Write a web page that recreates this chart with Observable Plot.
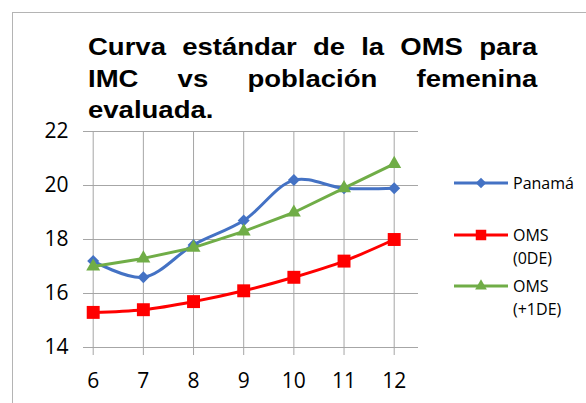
<!DOCTYPE html>
<html>
<head>
<meta charset="utf-8">
<script src="https://cdn.jsdelivr.net/npm/d3@7"></script>
<script src="https://cdn.jsdelivr.net/npm/@observablehq/plot@0.6"></script>
<style>
  html, body { margin: 0; padding: 0; background: #fff; overflow: hidden; }
  #wrap { position: relative; width: 586px; height: 403px; overflow: hidden; background: #fff; }
  #border { position: absolute; left: 12px; top: 12px; width: 640px; height: 460px; border: 1px solid #b4b4b4; box-sizing: border-box; }
  #title { position: absolute; left: 88px; top: 31px; width: 392px; transform: scaleX(1.146); transform-origin: 0 0;
           font-family: "Liberation Sans", Arial, sans-serif; font-weight: bold; font-size: 24px; line-height: 31.5px; color: #000; }
  #title .j { text-align: justify; text-align-last: justify; }
  #chart { position: absolute; left: 0; top: 0; }
  #legend { position: absolute; left: 0; top: 0; }
</style>
</head>
<body>
<div id="wrap">
  <div id="border"></div>
  <div id="chart"></div>
  <div id="title"></div>
  <div id="legend"></div>
</div>
<script>
// ---- data ----
const ages = [6, 7, 8, 9, 10, 11, 12];
const panama = [17.2, 16.6, 17.8, 18.7, 20.2, 19.9, 19.9];
const oms0DE = [15.3, 15.4, 15.7, 16.1, 16.6, 17.2, 18.0];
const oms1DE = [17.0, 17.3, 17.7, 18.3, 19.0, 19.9, 20.8];
const yTicks = [14, 16, 18, 20, 22];
const seriesNames = ["Panamá", "OMS (0DE)", "OMS (+1DE)"];
const legendLines = [["Panamá"], ["OMS", "(0DE)"], ["OMS", "(+1DE)"]];
const titleLines = ["Curva estándar de la OMS para", "IMC vs población femenina", "evaluada."];

const colors = ["#4472C4", "#FF0000", "#70AD47"];
const symbols = ["diamond2", "square", "triangle"];
const curves = ["catmull-rom", "catmull-rom", "linear"];
const radii = [5.4, 7.3, 5.2];

const rows = [];
[panama, oms0DE, oms1DE].forEach((vals, s) => {
  vals.forEach((v, i) => rows.push({series: seriesNames[s], s, age: ages[i], value: v}));
});

const fontTick = "'Open Sans', 'Noto Sans', sans-serif";
const grid = "#a6a6a6";

const marks = [
  Plot.ruleY(yTicks, {y: d => d, stroke: grid, strokeWidth: 1}),
  Plot.ruleX(ages, {x: d => d, y1: 22, y2: 14, insetBottom: -8, stroke: grid, strokeWidth: 1}),
  Plot.text(yTicks, {y: d => d, frameAnchor: "left", dx: -15, textAnchor: "end", lineAnchor: "middle",
    text: d => String(d), fontSize: 21, fontFamily: fontTick, fill: "#000"}),
  Plot.text(ages, {x: d => d, y: 14, dy: 34, textAnchor: "middle", lineAnchor: "middle",
    text: d => String(d), fontSize: 21, fontFamily: fontTick, fill: "#000"})
];
seriesNames.forEach((name, s) => {
  const data = rows.filter(r => r.s === s);
  marks.push(Plot.line(data, {x: "age", y: "value", stroke: colors[s], strokeWidth: 3, curve: curves[s]}));
  marks.push(Plot.dot(data, {x: "age", y: "value", symbol: () => symbols[s], fill: colors[s], stroke: "none", r: radii[s]}));
});

const chart = Plot.plot({
  width: 586, height: 403,
  marginLeft: 83, marginRight: 168, marginTop: 131, marginBottom: 56,
  x: {domain: [6, 12], range: [92.7, 393.7], axis: null},
  y: {domain: [14, 22], axis: null},
  symbol: {type: "identity"},
  style: {background: "transparent", overflow: "visible"},
  marks
});
document.getElementById("chart").appendChild(chart);

// ---- title ----
const title = d3.select("#title");
titleLines.forEach((t, i) => {
  title.append("div").attr("class", i < titleLines.length - 1 ? "j" : "").text(t);
});

// ---- legend ----
const lg = d3.select("#legend").append("svg").attr("width", 586).attr("height", 403);
const legendY = [183, 235, 286];
const lineGap = 23;
const symMap = {diamond2: d3.symbolDiamond2, square: d3.symbolSquare, triangle: d3.symbolTriangle};
const legendSize = [70, 110, 60];
seriesNames.forEach((name, s) => {
  const g = lg.append("g").attr("transform", `translate(0,${legendY[s]})`);
  g.append("line").attr("x1", 454).attr("x2", 508).attr("y1", 0).attr("y2", 0)
    .attr("stroke", colors[s]).attr("stroke-width", 3);
  g.append("path").attr("transform", "translate(481,0)")
    .attr("d", d3.symbol(symMap[symbols[s]], legendSize[s])()).attr("fill", colors[s]);
  legendLines[s].forEach((t, k) => {
    g.append("text").attr("x", 513).attr("y", k * lineGap).attr("dy", "0.36em")
      .attr("font-family", fontTick).attr("font-size", 16).attr("fill", "#000").text(t);
  });
});
</script>
</body>
</html>
